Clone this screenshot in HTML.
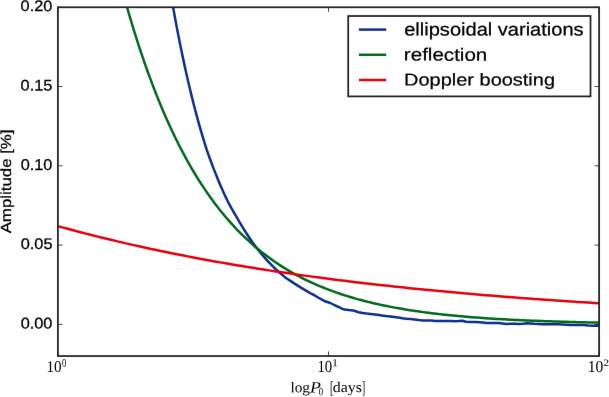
<!DOCTYPE html>
<html><head><meta charset="utf-8"><style>
html,body{margin:0;padding:0;background:#fff;overflow:hidden;}
svg{display:block;will-change:transform;}
text{text-rendering:geometricPrecision;}
.tk{stroke:#222;stroke-width:0.85;}
.yl{font-family:"Liberation Sans",sans-serif;font-size:16px;fill:#000;stroke:#000;stroke-width:0.3px;}
.xl{font-family:"Liberation Serif",serif;font-size:15.5px;fill:#000;}
.xs{font-size:11px;}
.sub{font-size:11px;}
.lg{font-family:"Liberation Sans",sans-serif;font-size:18.7px;fill:#000;stroke:#000;stroke-width:0.25px;}
.lab{font-family:"Liberation Serif",serif;font-size:15.5px;fill:#000;}
.ylab{font-family:"Liberation Sans",sans-serif;font-size:14.8px;fill:#000;stroke:#000;stroke-width:0.25px;}
.c{fill:none;stroke-width:2.5;stroke-linejoin:round;stroke-linecap:butt;}
</style></head><body>
<svg width="609" height="397" viewBox="0 0 609 397">
<defs><filter id="bl" color-interpolation-filters="sRGB" filterUnits="userSpaceOnUse" x="0" y="0" width="609" height="397"><feConvolveMatrix order="3" kernelMatrix="0.0016 0.0371 0.0016 0.0371 0.8450 0.0371 0.0016 0.0371 0.0016" edgeMode="none"/></filter><clipPath id="ax"><rect x="57.9" y="7.27" width="541.2" height="348.78000000000003"/></clipPath></defs>
<g id="all" filter="url(#bl)">
<g id="plot">
<g clip-path="url(#ax)">
<path class="c" stroke="#0d2f8e" d="M167.69,-23.33 L169.04,-15.41 L170.39,-7.68 L171.75,-0.12 L173.10,7.27 L174.40,14.49 L175.71,21.54 L177.01,28.44 L178.32,35.17 L179.62,41.76 L180.93,48.19 L182.23,54.48 L183.52,60.62 L184.81,66.63 L186.11,72.49 L187.40,78.23 L188.70,83.83 L190.00,89.31 L191.30,94.66 L192.60,99.89 L193.89,105.00 L195.18,109.99 L196.48,114.87 L197.77,119.64 L199.07,124.30 L200.37,128.86 L201.67,133.31 L202.97,137.66 L204.27,141.91 L205.57,146.06 L206.88,150.12 L208.26,154.09 L209.65,157.97 L211.03,161.76 L212.41,165.46 L213.80,169.08 L215.18,172.61 L216.56,176.07 L217.94,179.44 L219.32,182.74 L220.70,185.97 L222.07,189.12 L223.45,192.20 L224.83,195.21 L226.21,198.15 L227.62,201.02 L229.10,203.83 L230.58,206.58 L232.05,209.26 L233.52,211.88 L234.99,214.44 L236.46,216.94 L237.93,219.39 L239.39,221.78 L240.75,224.11 L242.10,226.40 L243.46,228.63 L244.81,230.81 L246.16,232.94 L247.52,235.02 L248.87,237.06 L250.22,239.04 L251.57,240.99 L252.93,242.89 L254.28,244.74 L255.63,246.55 L256.99,248.33 L258.34,250.06 L259.69,251.75 L261.05,253.40 L262.40,255.02 L263.75,256.60 L265.10,258.14 L266.46,259.65 L267.81,261.12 L269.16,262.56 L270.52,263.97 L271.87,265.35 L273.22,266.69 L274.58,268.01 L275.93,269.29 L277.28,270.54 L278.63,271.77 L279.99,272.97 L281.34,274.14 L282.69,275.28 L284.05,276.40 L285.40,277.49 L286.75,278.56 L290.00,280.60 L295.00,283.90 L300.10,287.10 L305.10,290.10 L310.20,293.10 L315.20,295.70 L320.20,298.70 L324.30,301.00 L327.30,302.00 L330.30,303.00 L333.30,304.50 L336.40,306.00 L339.60,307.30 L341.70,308.60 L344.60,309.50 L348.70,310.10 L352.80,310.40 L355.70,311.30 L358.50,312.20 L362.60,312.90 L366.70,313.50 L370.80,314.00 L374.90,314.50 L379.00,315.10 L383.20,315.70 L386.00,316.10 L390.10,316.50 L394.20,316.90 L398.30,317.60 L402.40,318.30 L406.50,318.80 L410.60,319.10 L414.70,319.60 L418.80,320.10 L422.90,320.40 L427.00,320.40 L431.20,320.60 L435.00,321.00 L438.10,321.10 L442.20,321.00 L446.30,320.90 L450.40,321.10 L454.50,321.30 L458.60,321.10 L462.30,320.70 L466.00,321.80 L470.90,322.10 L475.00,322.10 L479.20,322.20 L483.00,322.60 L486.10,323.00 L490.20,323.10 L494.30,323.10 L498.40,323.10 L502.50,323.50 L506.60,323.90 L510.70,323.80 L514.80,323.80 L518.90,323.90 L523.00,323.80 L527.20,323.30 L530.00,323.40 L534.10,323.70 L538.20,323.90 L542.30,324.20 L546.40,324.30 L550.50,324.30 L554.60,324.30 L558.70,324.30 L562.80,324.50 L566.90,324.70 L571.10,325.00 L575.20,325.10 L580.00,325.10 L584.10,325.10 L588.20,325.50 L592.20,325.70 L598.60,325.80 L601.00,325.80"/>
<path class="c" stroke="#006a1a" d="M117.43,-28.00 L120.14,-17.68 L122.84,-7.67 L125.55,2.05 L128.26,11.48 L130.96,20.64 L133.67,29.53 L136.37,38.16 L139.08,46.54 L141.79,54.67 L144.49,62.56 L147.20,70.23 L149.90,77.66 L152.61,84.89 L155.32,91.89 L158.02,98.70 L160.73,105.31 L163.43,111.72 L166.14,117.94 L168.85,123.98 L171.55,129.85 L174.26,135.54 L176.96,141.07 L179.67,146.44 L182.38,151.64 L185.08,156.70 L187.79,161.61 L190.49,166.37 L193.20,171.00 L195.91,175.49 L198.61,179.85 L201.32,184.08 L204.02,188.18 L206.73,192.17 L209.44,196.04 L212.14,199.80 L214.85,203.44 L217.55,206.98 L220.26,210.42 L222.97,213.75 L225.67,216.99 L228.38,220.14 L231.08,223.19 L233.79,226.15 L236.50,229.03 L239.20,231.82 L241.91,234.53 L244.61,237.16 L247.32,239.71 L250.03,242.19 L252.73,244.59 L255.44,246.93 L258.14,249.20 L260.85,251.40 L263.56,253.53 L266.26,255.61 L268.97,257.62 L271.67,259.58 L274.38,261.47 L277.09,263.32 L279.79,265.10 L282.50,266.84 L285.20,268.52 L287.91,270.16 L290.62,271.75 L293.32,273.29 L296.03,274.78 L298.73,276.23 L301.44,277.64 L304.15,279.01 L306.85,280.34 L309.56,281.63 L312.26,282.88 L314.97,284.10 L317.68,285.28 L320.38,286.42 L323.09,287.53 L325.79,288.61 L328.50,289.66 L331.21,290.68 L333.91,291.66 L336.62,292.62 L339.32,293.55 L342.03,294.45 L344.74,295.33 L347.44,296.18 L350.15,297.01 L352.85,297.81 L355.56,298.59 L358.27,299.34 L360.97,300.08 L363.68,300.79 L366.38,301.48 L369.09,302.15 L371.80,302.80 L374.50,303.43 L377.21,304.05 L379.91,304.64 L382.62,305.22 L385.33,305.78 L388.03,306.33 L390.74,306.86 L393.44,307.37 L396.15,307.87 L398.86,308.35 L401.56,308.82 L404.27,309.28 L406.97,309.72 L409.68,310.15 L412.39,310.57 L415.09,310.97 L417.80,311.36 L420.50,311.75 L423.21,312.12 L425.92,312.48 L428.62,312.82 L431.33,313.16 L434.03,313.49 L436.74,313.81 L439.45,314.12 L442.15,314.42 L444.86,314.71 L447.56,315.00 L450.27,315.27 L452.98,315.54 L455.68,315.80 L458.39,316.05 L461.09,316.30 L463.80,316.53 L466.51,316.76 L469.21,316.99 L471.92,317.20 L474.62,317.41 L477.33,317.62 L480.04,317.82 L482.74,318.01 L485.45,318.20 L488.15,318.38 L490.86,318.55 L493.57,318.73 L496.27,318.89 L498.98,319.05 L501.68,319.21 L504.39,319.36 L507.10,319.51 L509.80,319.65 L512.51,319.79 L515.21,319.93 L517.92,320.06 L520.63,320.18 L523.33,320.31 L526.04,320.43 L528.74,320.54 L531.45,320.66 L534.16,320.77 L536.86,320.87 L539.57,320.98 L542.27,321.08 L544.98,321.17 L547.69,321.27 L550.39,321.36 L553.10,321.45 L555.80,321.53 L558.51,321.62 L561.22,321.70 L563.92,321.78 L566.63,321.86 L569.33,321.93 L572.04,322.00 L574.75,322.07 L577.45,322.14 L580.16,322.21 L582.86,322.27 L585.57,322.33 L588.28,322.39 L590.98,322.45 L593.69,322.51 L596.39,322.56 L599.10,322.62"/>
<path class="c" stroke="#e6000b" d="M57.90,226.09 L63.31,227.59 L68.72,229.06 L74.14,230.51 L79.55,231.94 L84.96,233.35 L90.37,234.74 L95.78,236.11 L101.20,237.45 L106.61,238.78 L112.02,240.08 L117.43,241.36 L122.84,242.63 L128.26,243.87 L133.67,245.10 L139.08,246.31 L144.49,247.50 L149.90,248.67 L155.32,249.82 L160.73,250.96 L166.14,252.08 L171.55,253.18 L176.96,254.27 L182.38,255.33 L187.79,256.39 L193.20,257.42 L198.61,258.44 L204.02,259.45 L209.44,260.44 L214.85,261.41 L220.26,262.37 L225.67,263.32 L231.08,264.25 L236.50,265.16 L241.91,266.06 L247.32,266.95 L252.73,267.83 L258.14,268.69 L263.56,269.54 L268.97,270.37 L274.38,271.20 L279.79,272.01 L285.20,272.81 L290.62,273.59 L296.03,274.37 L301.44,275.13 L306.85,275.88 L312.26,276.62 L317.68,277.35 L323.09,278.06 L328.50,278.77 L333.91,279.46 L339.32,280.15 L344.74,280.82 L350.15,281.49 L355.56,282.14 L360.97,282.78 L366.38,283.42 L371.80,284.04 L377.21,284.66 L382.62,285.26 L388.03,285.86 L393.44,286.45 L398.86,287.02 L404.27,287.59 L409.68,288.15 L415.09,288.71 L420.50,289.25 L425.92,289.78 L431.33,290.31 L436.74,290.83 L442.15,291.34 L447.56,291.85 L452.98,292.34 L458.39,292.83 L463.80,293.31 L469.21,293.79 L474.62,294.25 L480.04,294.71 L485.45,295.16 L490.86,295.61 L496.27,296.05 L501.68,296.48 L507.10,296.90 L512.51,297.32 L517.92,297.74 L523.33,298.14 L528.74,298.54 L534.16,298.94 L539.57,299.32 L544.98,299.71 L550.39,300.08 L555.80,300.45 L561.22,300.82 L566.63,301.18 L572.04,301.53 L577.45,301.88 L582.86,302.22 L588.28,302.56 L593.69,302.89 L599.10,303.22"/>
</g>
<line x1="57.9" y1="7.27" x2="62.5" y2="7.27" class="tk"/><line x1="599.1" y1="7.27" x2="594.5" y2="7.27" class="tk"/><line x1="57.9" y1="86.55" x2="62.5" y2="86.55" class="tk"/><line x1="599.1" y1="86.55" x2="594.5" y2="86.55" class="tk"/><line x1="57.9" y1="165.83" x2="62.5" y2="165.83" class="tk"/><line x1="599.1" y1="165.83" x2="594.5" y2="165.83" class="tk"/><line x1="57.9" y1="245.12" x2="62.5" y2="245.12" class="tk"/><line x1="599.1" y1="245.12" x2="594.5" y2="245.12" class="tk"/><line x1="57.9" y1="324.40" x2="62.5" y2="324.40" class="tk"/><line x1="599.1" y1="324.40" x2="594.5" y2="324.40" class="tk"/><line x1="57.90" y1="356.05" x2="57.90" y2="351.45" class="tk"/><line x1="57.90" y1="7.27" x2="57.90" y2="11.87" class="tk"/><line x1="328.50" y1="356.05" x2="328.50" y2="351.45" class="tk"/><line x1="328.50" y1="7.27" x2="328.50" y2="11.87" class="tk"/><line x1="599.10" y1="356.05" x2="599.10" y2="351.45" class="tk"/><line x1="599.10" y1="7.27" x2="599.10" y2="11.87" class="tk"/>
<rect x="57.9" y="7.27" width="541.2" height="348.78000000000003" fill="none" stroke="#222" stroke-width="1.75"/>
<rect x="348.2" y="16.0" width="242.3" height="80.4" fill="#fff" stroke="#222" stroke-width="1.75"/>
<line x1="358.9" y1="29.6" x2="386.2" y2="29.6" stroke="#0d2f8e" stroke-width="2.5"/>
<line x1="358.9" y1="54.8" x2="386.2" y2="54.8" stroke="#006a1a" stroke-width="2.5"/>
<line x1="358.9" y1="80.0" x2="386.2" y2="80.0" stroke="#e6000b" stroke-width="2.5"/>
</g>
<g id="y0.20" transform="matrix(1.02051,0.0005,0,0.95546,20.604,11.117)"><text class="yl">0.20</text></g>
<g id="y0.15" transform="matrix(1.02325,0.0005,0,0.95904,20.586,90.599)"><text class="yl">0.15</text></g>
<g id="y0.10" transform="matrix(1.01627,0.0005,0,0.97921,20.661,169.998)"><text class="yl">0.10</text></g>
<g id="y0.05" transform="matrix(1.02275,0.0005,0,0.95758,20.638,249.051)"><text class="yl">0.05</text></g>
<g id="y0.00" transform="matrix(1.01816,0.0005,0,0.96404,20.660,328.449)"><text class="yl">0.00</text></g>
<g id="x0" transform="matrix(0.97789,0.0005,0,1.06369,46.440,371.917)"><text class="xl">10</text></g>
<g id="xs0" transform="matrix(0.55149,0.0005,0,0.75844,62.059,366.769)"><text class="xl">0</text></g>
<g id="x1" transform="matrix(0.95868,0.0005,0,1.09377,317.444,371.979)"><text class="xl">10</text></g>
<g id="xs1" transform="matrix(0.77230,0.0005,0,0.69497,332.112,366.361)"><text class="xl">1</text></g>
<g id="x2" transform="matrix(1.00414,0.0005,0,1.07571,587.800,371.940)"><text class="xl">10</text></g>
<g id="xs2" transform="matrix(0.76165,0.0005,0,0.60796,603.317,365.795)"><text class="xl">2</text></g>
<g id="lg1" transform="matrix(1.07293,0.0005,0,0.97029,404.185,35.432)"><text class="lg">ellipsoidal variations</text></g>
<g id="lg2" transform="matrix(1.10048,0.0005,0,0.94814,403.843,60.611)"><text class="lg">reflection</text></g>
<g id="lg3" transform="matrix(1.06816,0.0005,0,0.91722,404.094,85.534)"><text class="lg">Doppler boosting</text></g>
<g id="xlog" transform="matrix(0.99109,0.0005,0,0.95207,290.381,392.339)"><text class="lab">log</text></g>
<g id="xP" transform="matrix(1.15440,0.0005,0,1.01880,310.003,392.398)"><text class="lab" font-style="italic">P</text></g>
<g id="xP0" transform="matrix(0.55968,0.0005,0,0.73148,318.689,395.361)"><text class="lab">0</text></g>
<g id="xlb" transform="matrix(0.62682,0.0005,0,1.14284,330.003,393.311)"><text class="lab">[</text></g>
<g id="xdays" transform="matrix(1.02674,0.0005,0,0.94892,332.842,392.015)"><text class="lab">days</text></g>
<g id="xrb" transform="matrix(0.62229,0.0005,0,1.14013,361.986,393.166)"><text class="lab">]</text></g>
<g id="ylab" transform="matrix(0.98909,0.0005,0,1.13800,10.993,233.361)"><text class="ylab" transform="rotate(-90)">Amplitude [%]</text></g>

</g>
</svg>
</body></html>
